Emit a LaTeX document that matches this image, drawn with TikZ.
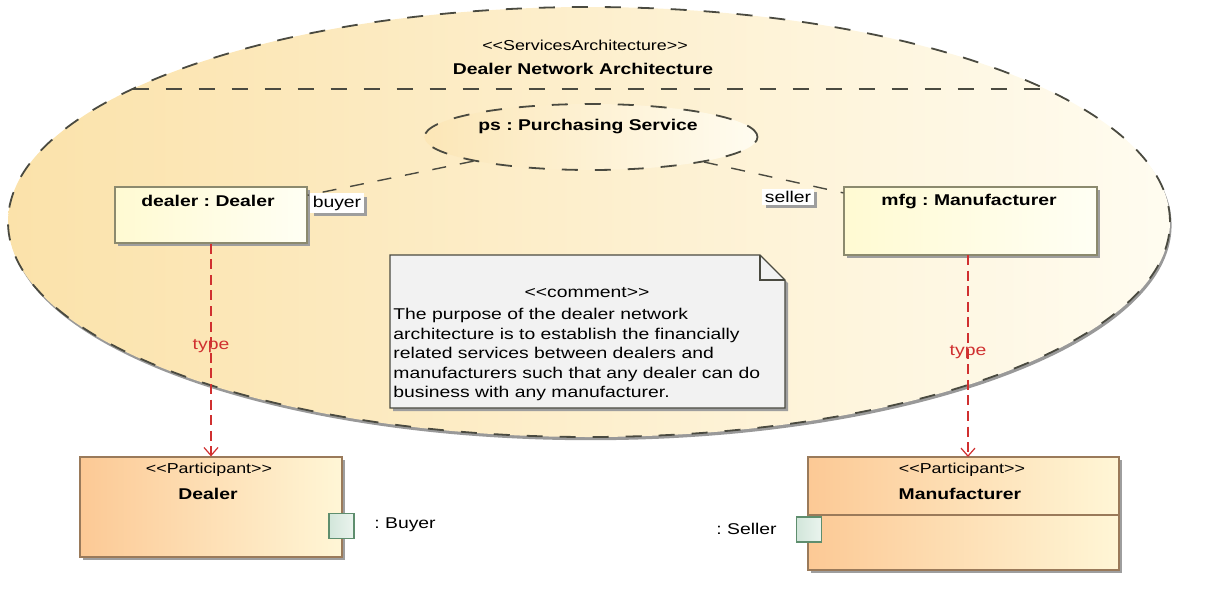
\documentclass[tikz,border=0pt]{standalone}
\usepackage{fontspec}
\setmainfont{Liberation Sans}[FakeStretch=1.24, Ligatures=TeXOff]
\usetikzlibrary{positioning,arrows.meta,calc,shapes.geometric,shadows}
\definecolor{archleft}{HTML}{FBE2AA}
\definecolor{archright}{HTML}{FFFCF0}
\definecolor{inkline}{HTML}{4A4A40}
\definecolor{instleft}{HTML}{FFFAD2}
\definecolor{instright}{HTML}{FFFFF4}
\definecolor{instline}{HTML}{8C8A6E}
\definecolor{partleft}{HTML}{FCC995}
\definecolor{partright}{HTML}{FFF6D6}
\definecolor{partline}{HTML}{9A7A5A}
\definecolor{portfill}{HTML}{D2E6DA}
\definecolor{portline}{HTML}{5E8E6E}
\definecolor{notefill}{HTML}{F2F2F2}
\definecolor{typered}{HTML}{D03030}
\tikzset{
  sa shadow/.style={drop shadow={shadow xshift=1.6pt, shadow yshift=-1.6pt, fill=black!38, opacity=1}},
  sa txt/.style={font=\fontsize{7.8}{9.75}\selectfont\frenchspacing, inner sep=0pt},
  sa stereo/.style={font=\fontsize{7.2}{9}\selectfont, inner sep=0pt},
  sa name/.style={font=\fontsize{7.8}{9.75}\selectfont\bfseries\frenchspacing, inner sep=0pt},
  sa dash/.style={draw=inkline, line width=0.9pt, dash pattern=on 8pt off 8.5pt},
  sa arch/.style={ellipse, sa dash, left color=archleft, right color=archright, inner sep=0pt,
                  drop shadow={shadow xshift=0.8pt, shadow yshift=-1.6pt, fill=black!40, opacity=1}},
  sa coll/.style={ellipse, sa dash, left color=archleft!85!white, right color=archright, inner sep=0pt},
  sa inst/.style={rectangle, draw=instline, line width=0.6pt, left color=instleft, right color=instright, inner sep=0pt, sa shadow},
  sa part/.style={rectangle, draw=partline, line width=0.6pt, left color=partleft, right color=partright, inner sep=0pt, sa shadow},
  sa port/.style={rectangle, draw=portline, line width=0.6pt, left color=portfill, right color=portfill!45!white,
                  minimum width=12.5pt, minimum height=12.5pt, inner sep=0pt},
  sa role/.style={sa txt, fill=white, inner sep=1.2pt, sa shadow},
  sa link/.style={draw=inkline, line width=0.7pt, dash pattern=on 7pt off 7pt},
  sa type/.style={draw=typered, line width=0.6pt, dash pattern=on 5pt off 2.8pt,
                  -{Straight Barb[length=4pt, width=7pt, line width=0.6pt]}},
  sa typelbl/.style={sa txt, text=typered},
}
\begin{document}
\begin{tikzpicture}[x=0.5pt, y=-0.5pt]
  \useasboundingbox (0,0) rectangle (1223,606);
  % services architecture
  \node[sa arch, minimum width=581pt, minimum height=215pt] (arch) at (589,222) {};
  \draw[sa dash] (132.5,89) -- (1045.5,89);
  \node[sa stereo] (archst) at (585,45) {<<ServicesArchitecture>>};
  \node[sa name] (archnm) at (583,69) {Dealer Network Architecture};
  % collaboration use and parts
  \node[sa coll, minimum width=166.5pt, minimum height=33pt] (ps) at (591,137) {};
  \node[sa name] (psnm) at (588,126) {ps : Purchasing Service};
  \node[sa inst, minimum width=96pt, minimum height=28pt] (dealer) at (211,215) {};
  \node[sa name] (dealernm) at (208,201) {dealer : Dealer};
  \node[sa inst, minimum width=126.5pt, minimum height=34pt] (mfg) at (970.5,221) {};
  \node[sa name] (mfgnm) at (969,201) {mfg : Manufacturer};
  \draw[sa link] (ps) -- (dealer);
  \draw[sa link] (ps) -- (mfg);
  \node[sa role] (buyer) at (337,203) {buyer};
  \node[sa role] (seller) at (788,197) {seller};
  % comment
  \coordinate (nw) at (390,255); \coordinate (se) at (785,408);
  \fill[black!38] ($(nw)+(3,3)$) -- ($(nw -| se)+(-22,3)$) -- ($(nw -| se)+(3,28)$) -- ($(se)+(3,3)$) -- ($(nw |- se)+(3,3)$) -- cycle;
  \draw[fill=notefill, draw=inkline, line width=0.7pt] (nw) -- ($(nw -| se)+(-25,0)$) -- ($(nw -| se)+(0,25)$) -- (se) -- (nw |- se) -- cycle;
  \draw[draw=inkline, line width=0.7pt] ($(nw -| se)+(-25,0)$) -- ($(nw -| se)+(-25,25)$) -- ($(nw -| se)+(0,25)$);
  \node[sa txt] (notest) at (587,293) {<<comment>>};
  \node[sa txt, anchor=north west, align=left] (notetx) at (393,308)
    {The purpose of the dealer network\\architecture is to establish the financially\\related services between dealers and\\manufacturers such that any dealer can do\\business with any manufacturer.};
  % participants
  \node[sa part, minimum width=131pt, minimum height=50pt] (dealerpart) at (211,507) {};
  \node[sa stereo] (dealerst) at (209,470) {<<Participant>>};
  \node[sa name] (dealerpn) at (208,494) {Dealer};
  \node[sa part, minimum width=155.5pt, minimum height=56.5pt] (mfrpart) at (963.5,513.5) {};
  \draw[draw=partline, line width=0.6pt] (mfrpart.west |- 0,515) -- (mfrpart.east |- 0,515);
  \node[sa stereo] (mfrst) at (962,470) {<<Participant>>};
  \node[sa name] (mfrpn) at (960,494) {Manufacturer};
  \node[sa port] (buyport) at (341.5,526) {};
  \node[sa txt, anchor=west] (buyportlbl) at (374,525) {: Buyer};
  \node[sa port] (sellport) at (809,529.5) {};
  \node[sa txt, anchor=east] (sellportlbl) at (777,529) {: Seller};
  % typing
  \draw[sa type] (dealer) -- node[sa typelbl, pos=0.48] {type} (dealer |- dealerpart.north);
  \draw[sa type] (968,255) -- node[sa typelbl, pos=0.48] {type} (968,457);
\end{tikzpicture}
\end{document}
